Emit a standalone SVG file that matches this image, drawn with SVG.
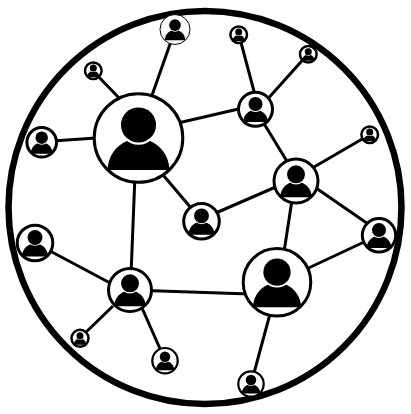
<svg xmlns="http://www.w3.org/2000/svg" width="411" height="414" viewBox="0 0 411 414">
<defs>
<g id="p"><path d="M-.69 .71C-.67 .4 -.52 .18 -.25 .06L.25 .06C.52 .18 .67 .4 .69 .71Z" fill="#000"/><circle cy="-.29" r=".44" fill="#fff"/><circle cy="-.29" r=".39" fill="#000"/></g>
</defs>
<style>.c{stroke:#000;stroke-width:3;fill:none}.r{fill:#fff;stroke:#000}</style>
<rect width="411" height="414" fill="#fff"/>
<circle cx="205" cy="207.500" r="196.500" fill="#fff" stroke="#000" stroke-width="6.500"/>
<g id="connectors" class="c">
<path d="M175 30L150 101M93 71L122 101M42 141.700L96 138M178 123L245 107.500M158 169L197 215M135 175L131 275M239 35L255 95M308 54L265 102M263 122L288 163M314 167L370 134.500M316 188L379 231.500M278 186L202 219M292 200L284 252M379 235L300 272M130 290L250 294M270 314L251 384M35 243L112 284M113 306L80 338M142 308L165 360"/>
</g>
<g id="n1"><circle class="r" cx="138.500" cy="138" r="44.300" stroke-width="3"/><use href="#p" transform="translate(138.500 138) scale(45)"/></g>
<g id="n2"><circle class="r" cx="277" cy="282.300" r="33.800" stroke-width="3"/><use href="#p" transform="translate(277 282.300) scale(35)"/></g>
<g id="n3"><circle class="r" cx="296" cy="181" r="22" stroke-width="3"/><use href="#p" transform="translate(296 181) scale(23)"/></g>
<g id="n4"><circle class="r" cx="130" cy="290" r="21.500" stroke-width="3"/><use href="#p" transform="translate(130 290) scale(23)"/></g>
<g id="n5"><circle class="r" cx="255.500" cy="109.300" r="17" stroke-width="3"/><use href="#p" transform="translate(255.500 109.300) scale(18)"/></g>
<g id="n6"><circle class="r" cx="201.500" cy="221.300" r="17.800" stroke-width="3"/><use href="#p" transform="translate(201.500 221.300) scale(19)"/></g>
<g id="n7"><circle class="r" cx="379" cy="235.300" r="16.700" stroke-width="3"/><use href="#p" transform="translate(379 235.300) scale(18)"/></g>
<g id="n8"><circle class="r" cx="35" cy="243" r="17.800" stroke-width="3"/><use href="#p" transform="translate(35 243) scale(19)"/></g>
<g id="n9"><circle class="r" cx="41.700" cy="142.300" r="14.800" stroke-width="3"/><use href="#p" transform="translate(41.700 142.300) scale(16)"/></g>
<g id="n10"><circle class="r" cx="175" cy="29.500" r="15" stroke-width="1"/><use href="#p" transform="translate(175 29.500) scale(15)"/></g>
<g id="n11"><circle class="r" cx="93.300" cy="70.700" r="8.300" stroke-width="2.500"/><use href="#p" transform="translate(93.300 70.700) scale(9)"/></g>
<g id="n12"><circle class="r" cx="238.700" cy="34.700" r="8.300" stroke-width="2.500"/><use href="#p" transform="translate(238.700 34.700) scale(9)"/></g>
<g id="n13"><circle class="r" cx="308.300" cy="54.300" r="8.300" stroke-width="2.500"/><use href="#p" transform="translate(308.300 54.300) scale(9)"/></g>
<g id="n14"><circle class="r" cx="369.700" cy="134.700" r="8.300" stroke-width="2.500"/><use href="#p" transform="translate(369.700 134.700) scale(9)"/></g>
<g id="n15"><circle class="r" cx="80" cy="338.300" r="8.500" stroke-width="2.500"/><use href="#p" transform="translate(80 338.300) scale(9)"/></g>
<g id="n16"><circle class="r" cx="165" cy="360.700" r="12.700" stroke-width="2.200"/><use href="#p" transform="translate(165 360.700) scale(13.500)"/></g>
<g id="n17"><circle class="r" cx="251" cy="384" r="12.700" stroke-width="2.200"/><use href="#p" transform="translate(251 384) scale(13.500)"/></g>
</svg>
